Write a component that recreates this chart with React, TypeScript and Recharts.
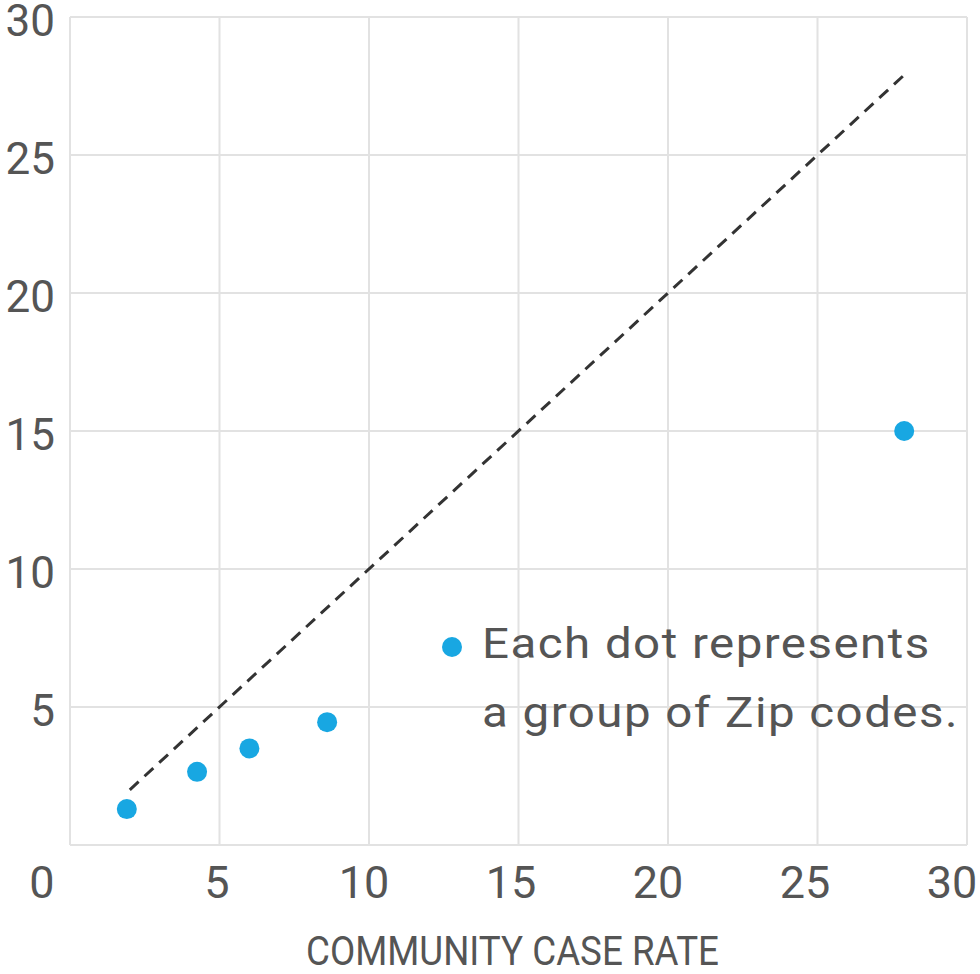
import React from 'react'
import {
    ScatterChart,
    Scatter,
    XAxis,
    YAxis,
    CartesianGrid,
    ReferenceLine,
} from 'recharts'

// community case rate (x) vs rate in group of Zip codes (y)
const caseRateX = [1.9, 4.25, 6.0, 8.6, 27.9]
const groupRateY = [1.3, 2.65, 3.5, 4.45, 15.0]
const equalLine = [
    { x: 2, y: 2 },
    { x: 28, y: 28 },
]
const ticks = [0, 5, 10, 15, 20, 25, 30]
const legendLines = ['Each dot represents', 'a group of Zip codes.']
const xTitle = 'COMMUNITY CASE RATE'

const points = caseRateX.map((x, i) => ({ x, y: groupRateY[i] }))

const DOT = '#18a7e2'
const TEXT = '#555'
const FONT = 'Roboto, "Noto Sans", sans-serif'

const XTick = (props: any) => {
    const { x, y, payload } = props
    const v = payload.value as number
    const dx = v === 0 ? -28 : -v * 0.5
    return (
        <text x={x + dx} y={y} textAnchor="middle" fill={TEXT} fontSize={45} fontFamily={FONT}>
            {v}
        </text>
    )
}

const YTick = (props: any) => {
    const { x, y, payload } = props
    if (payload.value === 0) return <g />
    return (
        <text x={x} y={y + 19} textAnchor="end" fill={TEXT} fontSize={44} fontFamily={FONT}>
            {payload.value}
        </text>
    )
}

const XTitle = (props: any) => {
    const { viewBox } = props
    const cx = viewBox.x + viewBox.width / 2 - 6
    return (
        <text
            x={cx}
            y={viewBox.y + 120}
            textAnchor="middle"
            fill={TEXT}
            fontSize={40}
            fontFamily={'"Liberation Sans Narrow", ' + FONT}
            textLength={413}
            lengthAdjust="spacingAndGlyphs"
        >
            {xTitle}
        </text>
    )
}

// the note that sits inside the plot, bottom right
const Note = () => (
    <div
        style={{
            position: 'absolute',
            left: 442,
            top: 609,
            display: 'flex',
            alignItems: 'flex-start',
            fontFamily: FONT,
            color: TEXT,
            whiteSpace: 'nowrap',
        }}
    >
        <div
            style={{
                width: 20,
                height: 20,
                borderRadius: 10,
                background: DOT,
                marginTop: 28,
                marginRight: 20,
            }}
        />
        <div
            style={{
                fontSize: 42,
                lineHeight: '69px',
                letterSpacing: 1.3,
                transform: 'scaleX(1.13)',
                transformOrigin: 'left top',
            }}
        >
            {legendLines.map((l) => (
                <div key={l}>{l}</div>
            ))}
        </div>
    </div>
)

export default function App() {
    return (
        <div style={{ position: 'absolute', left: 0, top: 0, width: 980, height: 974, background: '#fff' }}>
            <ScatterChart
                width={980}
                height={974}
                margin={{ top: 17, right: 13, bottom: 29, left: 0 }}
            >
                <CartesianGrid stroke="#e2e2e2" strokeWidth={2} />
                <XAxis
                    type="number"
                    dataKey="x"
                    domain={[0, 30]}
                    ticks={ticks}
                    height={100}
                    axisLine={false}
                    tickLine={false}
                    tickSize={0}
                    tickMargin={53}
                    tick={<XTick />}
                    interval={0}
                    label={<XTitle />}
                />
                <YAxis
                    type="number"
                    dataKey="y"
                    domain={[0, 30]}
                    ticks={ticks}
                    width={70}
                    axisLine={false}
                    tickLine={false}
                    tickSize={0}
                    tickMargin={15}
                    tick={<YTick />}
                    interval={0}
                />
                <ReferenceLine
                    segment={equalLine}
                    stroke="#333"
                    strokeWidth={3}
                    strokeDasharray="12 8"
                    ifOverflow="visible"
                />
                <Scatter
                    data={points}
                    fill={DOT}
                    isAnimationActive={false}
                    shape={(p: any) => <circle cx={p.cx} cy={p.cy} r={10} fill={DOT} />}
                />
            </ScatterChart>
            <Note />
        </div>
    )
}
